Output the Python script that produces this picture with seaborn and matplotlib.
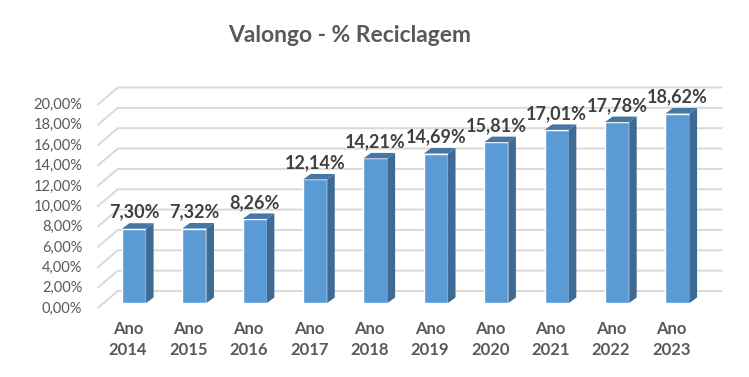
import numpy as np
import pandas as pd
import seaborn as sns
import matplotlib.pyplot as plt
from matplotlib.lines import Line2D
from matplotlib.patches import Polygon
from matplotlib.transforms import IdentityTransform, offset_copy

years = ['2014', '2015', '2016', '2017', '2018', '2019', '2020', '2021', '2022', '2023']
reciclagem = [7.30, 7.32, 8.26, 12.14, 14.21, 14.69, 15.81, 17.01, 17.78, 18.62]
yticks = [0, 2, 4, 6, 8, 10, 12, 14, 16, 18, 20]

df = pd.DataFrame({'ano': ['Ano\n' + y for y in years], 'pct': reciclagem})

sns.set_style('white')
plt.rcParams['font.family'] = ['Lato', 'DejaVu Sans']

W, H = 749, 377
fig = plt.figure(figsize=(W / 100, H / 100), dpi=100)
# axes in the "bar plane" (front face of the columns)
ax = fig.add_axes([103.8 / W, 74 / H, (707.7 - 103.8) / W, 203.5 / H])

sns.barplot(data=df, x='ano', y='pct', color='#5b9bd5', saturation=1,
            width=0.4, ax=ax, zorder=3)
ax.set_ylim(0, 20)
ax.set_xlim(-0.5, len(years) - 0.5)
ax.axis('off')

grid = '#d9d9d9'
gray = '#595959'
front = (-6, -5)   # pixel offset of the front wall from the bar plane
back = (14, 12)    # pixel offset of the back wall
depth = (7.5, 5.5)  # column depth in pixels
fig.canvas.draw()

def px(x, y, off=(0, 0)):
    p = ax.transData.transform((x, y))
    return p[0] + off[0], p[1] + off[1]

x0, x1 = ax.get_xlim()
for t in yticks:
    a = px(x0, t, front)
    b = px(x0, t, back)
    c = px(x1, t, back)
    fig.add_artist(Line2D([a[0], b[0], c[0]], [a[1], b[1], c[1]],
                          transform=IdentityTransform(), color=grid,
                          lw=1.4, zorder=0))
    ax.text(0, t, f'{t:.2f}%'.replace('.', ','), ha='right', va='center',
            fontsize=10.5, color=gray,
            transform=offset_copy(ax.get_yaxis_transform(), fig=fig,
                                  x=-21.5, y=-5.5, units='dots'))

for bar, v in zip(ax.patches, reciclagem):
    xl, xr = bar.get_x(), bar.get_x() + bar.get_width()
    fr_b = px(xr, 0)
    fr_t = px(xr, v)
    fl_t = px(xl, v)
    side = [fr_b, fr_t, (fr_t[0] + depth[0], fr_t[1] + depth[1]),
            (fr_b[0] + depth[0], fr_b[1] + depth[1])]
    top = [fl_t, fr_t, (fr_t[0] + depth[0], fr_t[1] + depth[1]),
           (fl_t[0] + depth[0], fl_t[1] + depth[1])]
    fig.add_artist(Polygon(side, closed=True, transform=IdentityTransform(),
                           facecolor='#3d6b96', edgecolor='none', zorder=2))
    fig.add_artist(Polygon(top, closed=True, transform=IdentityTransform(),
                           facecolor='#4576a6', edgecolor='none', zorder=2))
    ax.text(bar.get_x() + bar.get_width() / 2, v, f'{v:.2f}%'.replace('.', ','),
            ha='center', va='bottom', fontsize=13, fontweight='bold',
            color='#404040',
            transform=offset_copy(ax.transData, fig=fig, x=0, y=8, units='dots'))

for i, lab in enumerate(df['ano']):
    ax.text(i, 0, lab, ha='center', va='top', fontsize=12, fontweight='bold',
            color=gray, linespacing=1.4,
            transform=offset_copy(ax.transData, fig=fig, x=-6, y=-18, units='dots'))

fig.text(350 / W, 1 - 36 / H, 'Valongo - % Reciclagem', ha='center', va='center',
         fontsize=16.5, fontweight='bold', color=gray)

fig.savefig('out.png', dpi=100, facecolor='white')
